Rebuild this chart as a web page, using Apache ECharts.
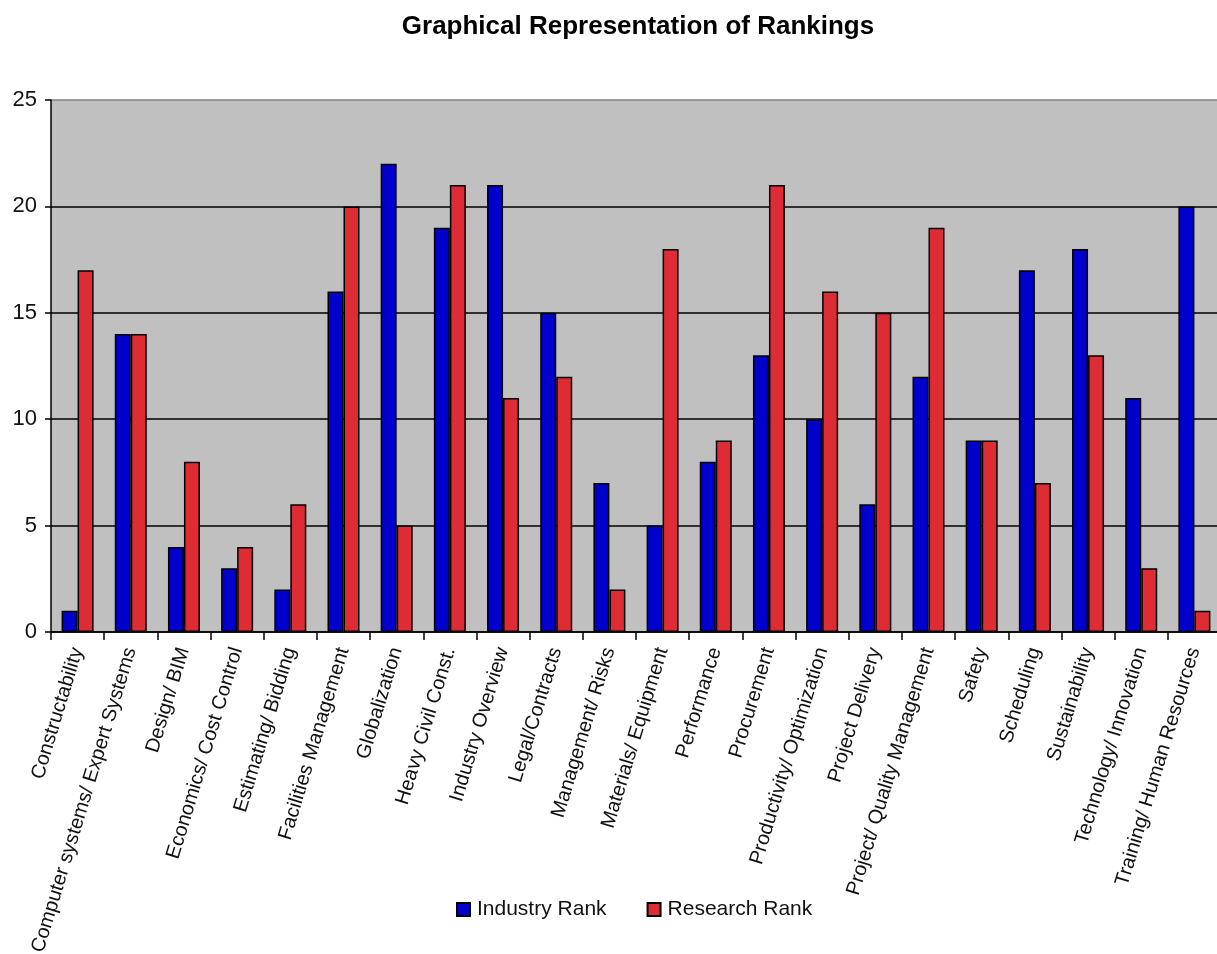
<!DOCTYPE html>
<html>
<head>
<meta charset="utf-8">
<script src="https://cdn.jsdelivr.net/npm/echarts@6/dist/echarts.min.js"></script>
<style>html,body{margin:0;padding:0;background:#fff}#c{width:1217px;height:954px}</style>
</head>
<body>
<div id="c"></div>
<script>
var categories = ["Constructability","Computer systems/ Expert Systems","Design/ BIM","Economics/ Cost Control","Estimating/ Bidding","Facilities Management","Globalization","Heavy Civil Const.","Industry Overview","Legal/Contracts","Management/ Risks","Materials/ Equipment","Performance","Procurement","Productivity/ Optimization","Project Delivery","Project/ Quality Management","Safety","Scheduling","Sustainability","Technology/ Innovation","Training/ Human Resources"];
var industryRank = [1,14,4,3,2,16,22,19,21,15,7,5,8,13,10,6,12,9,17,18,11,20];
var researchRank = [17,14,8,4,6,20,5,21,11,12,2,18,9,21,16,15,19,9,7,13,3,1];
var yTicks = {min:0, max:25, interval:5};

var chart = echarts.init(document.getElementById('c'));
var font = 'Liberation Sans, Arial, sans-serif';
chart.setOption({
  animation:false,
  title:{text:'Graphical Representation of Rankings', left:633, textAlign:'center', top:9,
    textStyle:{fontFamily:font, fontSize:26, fontWeight:'bold', color:'#000'}},
  legend:{top:894, left:451, itemWidth:13, itemHeight:13, itemGap:40,
    icon:'rect',
    textStyle:{fontFamily:font, fontSize:21, color:'#111', padding:[0,0,0,2]},
    data:['Industry Rank','Research Rank']},
  grid:{left:51, right:-4, top:100, bottom:322, backgroundColor:'#C0C0C0', show:true, borderWidth:0,
    containLabel:false, outerBoundsMode:'none'},
  xAxis:{type:'category', data:categories,
    axisLine:{lineStyle:{color:'#000', width:1.5}},
    axisTick:{show:true, length:8, lineStyle:{color:'#000', width:1.5}},
    axisLabel:{rotate:73, interval:0, fontFamily:font, fontSize:20, color:'#111', margin:16}},
  yAxis:{type:'value', min:yTicks.min, max:yTicks.max, interval:yTicks.interval,
    axisLine:{show:true, lineStyle:{color:'#000', width:1.5}},
    axisTick:{show:true, length:6, lineStyle:{color:'#000', width:1.5}},
    axisLabel:{fontFamily:font, fontSize:22, color:'#111', margin:14},
    splitLine:{show:true, lineStyle:{color:['#000','#000','#000','#000','#000','#808080'], width:1.5}}},
  series:[
    {name:'Industry Rank', type:'bar', data:industryRank, barWidth:16, barGap:'0%',
      itemStyle:{color:'#0000CC', borderColor:'#000', borderWidth:1.5}},
    {name:'Research Rank', type:'bar', data:researchRank, barWidth:16, barGap:'0%',
      itemStyle:{color:'#DD2C33', borderColor:'#000', borderWidth:1.5}}
  ]
});
</script>
</body>
</html>
